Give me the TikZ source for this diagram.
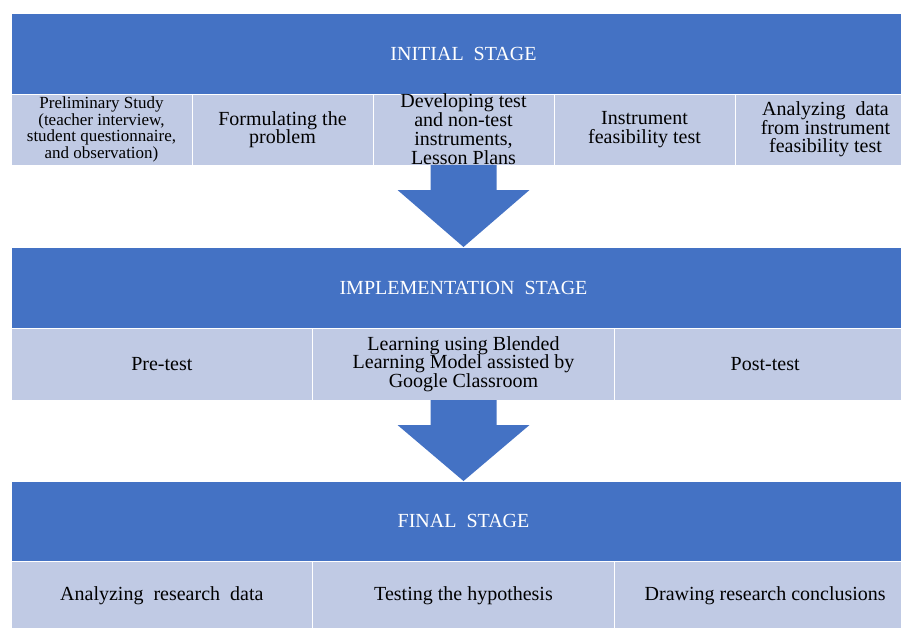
\documentclass[tikz,border=0pt]{standalone}
\usepackage{fontspec}
\setmainfont{Liberation Serif}
\usetikzlibrary{positioning,calc}
\definecolor{stageblue}{RGB}{68,114,196}
\definecolor{celllight}{RGB}{192,202,228}

\begin{document}
\begin{tikzpicture}[x=1pt, y=-1pt,
    stagehead/.style={draw=white, line width=0.6pt, fill=stageblue, text=white,
        minimum width=905pt, minimum height=81pt, inner sep=0pt, outer sep=0pt,
        font=\fontsize{20}{22}\selectfont},
    cell/.style={draw=white, line width=0.6pt, fill=celllight, minimum height=71pt,
        inner xsep=2pt, inner ysep=0pt, outer sep=0pt, align=center,
        font=\fontsize{20}{18.5}\selectfont},
    celltext/.style={inner sep=0pt, align=center, font=\fontsize{20}{19}\selectfont},
    smallcell/.style={cell, minimum width=181pt},
    widecell/.style={cell, minimum width=301.67pt, minimum height=72pt},
    blockarrow/.style={fill=stageblue}
]
\useasboundingbox (0,0) rectangle (901,627);
\clip (0,0) rectangle (901,627);

% initial stage
\node[stagehead] (init) at (463.5,53.5) {INITIAL\ \ STAGE};
\node[smallcell, font=\fontsize{17}{15.2}\selectfont, below right=0pt and 0pt of init.south west] (prelim)
    {Preliminary Study\\(teacher interview,\\student questionnaire,\\and observation)};
\node[smallcell, right=0pt of prelim] (formul) {Formulating the\\problem};
\node[smallcell, right=0pt of formul] (dev) {};
\node[celltext] (devtext) at (dev.center) {Developing test\\and non-test\\instruments,\\Lesson Plans};
\node[smallcell, right=0pt of dev] (feas) {Instrument\\feasibility test};
\node[smallcell, right=0pt of feas] (anfeas) {Analyzing\ \ data\\from instrument\\feasibility test};

% implementation stage
\node[stagehead] (impl) at (463.5,287.5) {IMPLEMENTATION\ \ STAGE};
\node[widecell, below right=0pt and 0pt of impl.south west] (pre) {Pre-test};
\node[widecell, right=0pt of pre] (learn) {Learning using Blended\\Learning Model assisted by\\Google Classroom};
\node[widecell, right=0pt of learn] (post) {Post-test};

% final stage
\node[stagehead, minimum height=80pt] (final) at (463.5,521) {FINAL\ \ STAGE};
\node[widecell, minimum height=70pt, below right=0pt and 0pt of final.south west] (anres) {Analyzing\ \ research\ \ data};
\node[widecell, minimum height=70pt, right=0pt of anres] (hypo) {Testing the hypothesis};
\node[widecell, minimum height=70pt, right=0pt of hypo] (concl) {Drawing research conclusions};

% block arrows
\coordinate (a1) at (dev.south -| impl.north);
\fill[blockarrow] ($(a1)+(-33,0)$) -- ($(a1)+(33,0)$) -- ++(0,25) -- ++(33,0)
    -- (impl.north) -- ($(a1)+(-66,25)$) -- ++(33,0) -- cycle;
\coordinate (a2) at (learn.south -| final.north);
\fill[blockarrow] ($(a2)+(-33,0)$) -- ($(a2)+(33,0)$) -- ++(0,25) -- ++(33,0)
    -- (final.north) -- ($(a2)+(-66,25)$) -- ++(33,0) -- cycle;
\end{tikzpicture}
\end{document}
